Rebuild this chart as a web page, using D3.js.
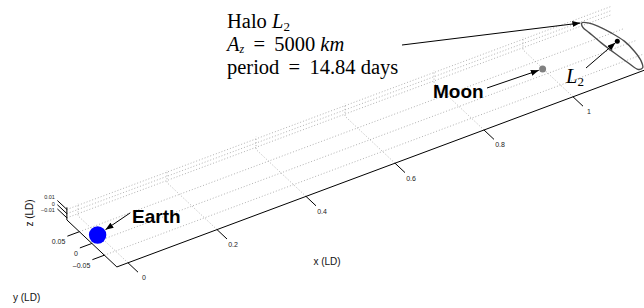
<!DOCTYPE html>
<html>
<head>
<meta charset="utf-8">
<script src="https://cdn.jsdelivr.net/npm/d3@7"></script>
<style>
  body { margin: 0; background: #fff; }
  svg { display: block; }
</style>
</head>
<body>
<div id="chart"></div>
<script>
// axis limits, in lunar distances (LD)
var xLim = [-0.025, 1.2];
var yLim = [-0.1, 0.1];
var zLim = [-0.015, 0.015];

var xTicks = [0, 0.2, 0.4, 0.6, 0.8, 1];
var yTicks = [-0.05, 0, 0.05];
var zTicks = [-0.01, 0, 0.01];
var xTickLabels = ["0", "0.2", "0.4", "0.6", "0.8", "1"];
var yTickLabels = ["\u20130.05", "0", "0.05"];
var zTickLabels = ["\u20130.01", "0", "0.01"];

// Earth, Moon, L2 positions
var bodyNames = ["Earth", "Moon", "L2"];
var bodyX = [-0.0121, 0.9879, 1.1557];
var bodyY = [0, 0, 0];
var bodyZ = [0, 0, 0];

// halo orbit around L2
var haloX = [1.130, 1.140, 1.150, 1.160, 1.167, 1.166, 1.160, 1.151, 1.141, 1.136, 1.131, 1.127, 1.125, 1.124];
var haloY = [0.096, 0.089, 0.068, 0.032, -0.008, -0.050, -0.088, -0.110, -0.110, -0.078, -0.033, 0.013, 0.057, 0.082];
var haloZ = [0, 0, 0, 0, 0, 0, 0, 0, 0, 0, 0, 0, 0, 0];

var width = 644, height = 308;

var svg = d3.select("#chart")
  .append("svg")
    .attr("width", width)
    .attr("height", height);

// oblique view: each coordinate adds a screen offset
var sxX = d3.scaleLinear().domain([0, 1]).range([103, 548]);
var syX = d3.scaleLinear().domain([0, 1]).range([233, 67]);
var sxY = d3.scaleLinear().domain([0, 1]).range([0, -250]);
var syY = d3.scaleLinear().domain([0, 1]).range([0, -235]);
var syZ = d3.scaleLinear().domain([0, 1]).range([0, -420]);

function proj(x, y, z) {
  return [sxX(x) + sxY(y), syX(x) + syY(y) + syZ(z)];
}
function seg(a, b) {
  return "M" + proj(a[0], a[1], a[2]) + "L" + proj(b[0], b[1], b[2]);
}

var x0 = xLim[0], x1 = xLim[1], y0 = yLim[0], y1 = yLim[1], z0 = zLim[0], z1 = zLim[1];

// grid
var grid = svg.append("g")
  .attr("fill", "none")
  .attr("stroke", "#8f8f8f")
  .attr("stroke-width", 0.7)
  .attr("stroke-dasharray", "1,2");

xTicks.forEach(function(t) {
  grid.append("path").attr("d", seg([t, y0, z0], [t, y1, z0]) + "L" + proj(t, y1, z1));
});
yTicks.forEach(function(t) {
  grid.append("path").attr("d", seg([x0, t, z0], [x1, t, z0]));
});
zTicks.forEach(function(t) {
  grid.append("path").attr("d", seg([x0, y1, t], [x1, y1, t]));
});

// axes
var ax = svg.append("g").attr("stroke", "#000").attr("stroke-width", 1).attr("fill", "none");
ax.append("path").attr("d", seg([x0, y0, z0], [x1, y0, z0]));
ax.append("path").attr("d", seg([x0, y0, z0], [x0, y1, z0]));
ax.append("path").attr("d", seg([x0, y1, z0], [x0, y1, z1]));

var tickLen = 0.04; // in y units for x ticks
var lab = svg.append("g")
  .style("font-family", "Liberation Sans, Arial, sans-serif")
  .style("font-size", "7px")
  .attr("fill", "#222");

xTicks.forEach(function(t, i) {
  ax.append("path").attr("d", seg([t, y0, z0], [t, y0 - tickLen, z0]));
  var p = proj(t, y0 - tickLen, z0);
  lab.append("text").attr("x", p[0] + 6).attr("y", p[1] + 8)
    .attr("text-anchor", "middle").text(xTickLabels[i]);
});
yTicks.forEach(function(t, i) {
  ax.append("path").attr("d", seg([x0, t, z0], [x0 - 0.027, t, z0]));
  var p = proj(x0 - 0.027, t, z0);
  lab.append("text").attr("x", p[0] - 2).attr("y", p[1] + 8)
    .attr("text-anchor", "end").text(yTickLabels[i]);
});
// z labels are packed tight, spread them a touch so they stay readable
var zLabelNudge = [2.2, 0, -2.2];
zTicks.forEach(function(t, i) {
  ax.append("path").attr("d", seg([x0, y1, t], [x0, y1 + 0.038, t]));
  var p = proj(x0, y1 + 0.038, t);
  lab.append("text").attr("x", p[0] - 2.5).attr("y", p[1] + 1 + zLabelNudge[i])
    .attr("text-anchor", "end").style("font-size", "5.5px").text(zTickLabels[i]);
});

// axis labels
var axLab = svg.append("g")
  .style("font-family", "Liberation Sans, Arial, sans-serif")
  .style("font-size", "10px")
  .attr("fill", "#111");
axLab.append("text").attr("x", 327).attr("y", 265).attr("text-anchor", "middle").text("x (LD)");
axLab.append("text").attr("x", 13).attr("y", 301).text("y (LD)");
axLab.append("text").attr("transform", "translate(33,213) rotate(-90)")
  .attr("text-anchor", "middle").text("z (LD)");

// halo orbit
var haloPts = haloX.map(function(d, i) { return proj(d, haloY[i], haloZ[i]); });
svg.append("path")
  .attr("d", d3.line().curve(d3.curveCatmullRomClosed)(haloPts))
  .attr("fill", "none")
  .attr("stroke", "#4d4d4d")
  .attr("stroke-width", 1.4);

// bodies
var bodyR = [8.7, 3.5, 2.5];
var bodyColor = ["#0000ff", "#808080", "#000"];
svg.append("g").selectAll("circle")
  .data(bodyNames)
  .enter().append("circle")
    .attr("cx", function(d, i) { return proj(bodyX[i], bodyY[i], bodyZ[i])[0]; })
    .attr("cy", function(d, i) { return proj(bodyX[i], bodyY[i], bodyZ[i])[1]; })
    .attr("r", function(d, i) { return bodyR[i]; })
    .attr("fill", function(d, i) { return bodyColor[i]; });

// arrows
svg.append("defs").append("marker")
  .attr("id", "head")
  .attr("viewBox", "0 0 8 6")
  .attr("refX", 8).attr("refY", 3)
  .attr("markerWidth", 8).attr("markerHeight", 6)
  .attr("markerUnits", "userSpaceOnUse")
  .attr("orient", "auto")
  .append("path").attr("d", "M0,0L8,3L0,6z").attr("fill", "#000");

var earthP = proj(bodyX[0], bodyY[0], bodyZ[0]);
var moonP = proj(bodyX[1], bodyY[1], bodyZ[1]);
var l2P = proj(bodyX[2], bodyY[2], bodyZ[2]);
// arrow tails (figure positions) and heads (data points with a gap)
var arrowTail = [[130, 213], [487, 88], [586, 68], [402, 45]];
var arrowHead = [earthP, moonP, l2P, haloPts[0]];
var arrowGap = [9.5, 4, 2.5, 1.5];

var arrows = svg.append("g").attr("stroke", "#000").attr("stroke-width", 1);
arrowTail.forEach(function(t, i) {
  var h = arrowHead[i];
  var dx = h[0] - t[0], dy = h[1] - t[1], L = Math.sqrt(dx * dx + dy * dy);
  var e = [h[0] - dx / L * arrowGap[i], h[1] - dy / L * arrowGap[i]];
  arrows.append("line")
    .attr("x1", t[0]).attr("y1", t[1])
    .attr("x2", e[0]).attr("y2", e[1])
    .attr("marker-end", "url(#head)");
});

// body labels
var bold = svg.append("g")
  .style("font-family", "Liberation Sans, Arial, sans-serif")
  .style("font-size", "19px")
  .style("font-weight", "bold")
  .attr("fill", "#000");
bold.append("text").attr("x", 132).attr("y", 223).text("Earth");
bold.append("text").attr("x", 433).attr("y", 98).text("Moon");

// LaTeX style notes
var tex = svg.append("g")
  .style("font-family", "Liberation Serif, Times New Roman, serif")
  .style("font-size", "20.5px")
  .attr("fill", "#000");

var t1 = tex.append("text").attr("x", 227).attr("y", 28);
t1.append("tspan").text("Halo ");
t1.append("tspan").style("font-style", "italic").text("L");
t1.append("tspan").attr("dy", 3).style("font-size", "13px").text("2");

var t2 = tex.append("text").attr("x", 227).attr("y", 51);
t2.append("tspan").style("font-style", "italic").text("A");
t2.append("tspan").attr("dy", 2).style("font-size", "12px").style("font-style", "italic").text("z");
t2.append("tspan").attr("dy", -2).text("\u2009 = \u20095000 ");
t2.append("tspan").style("font-style", "italic").text("km");

tex.append("text").attr("x", 227).attr("y", 74).text("period \u2009=\u2009 14.84 days");

var t4 = tex.append("text").attr("x", 566).attr("y", 83);
t4.append("tspan").style("font-style", "italic").text("L");
t4.append("tspan").attr("dy", 3).style("font-size", "13px").text("2");
</script>
</body>
</html>
